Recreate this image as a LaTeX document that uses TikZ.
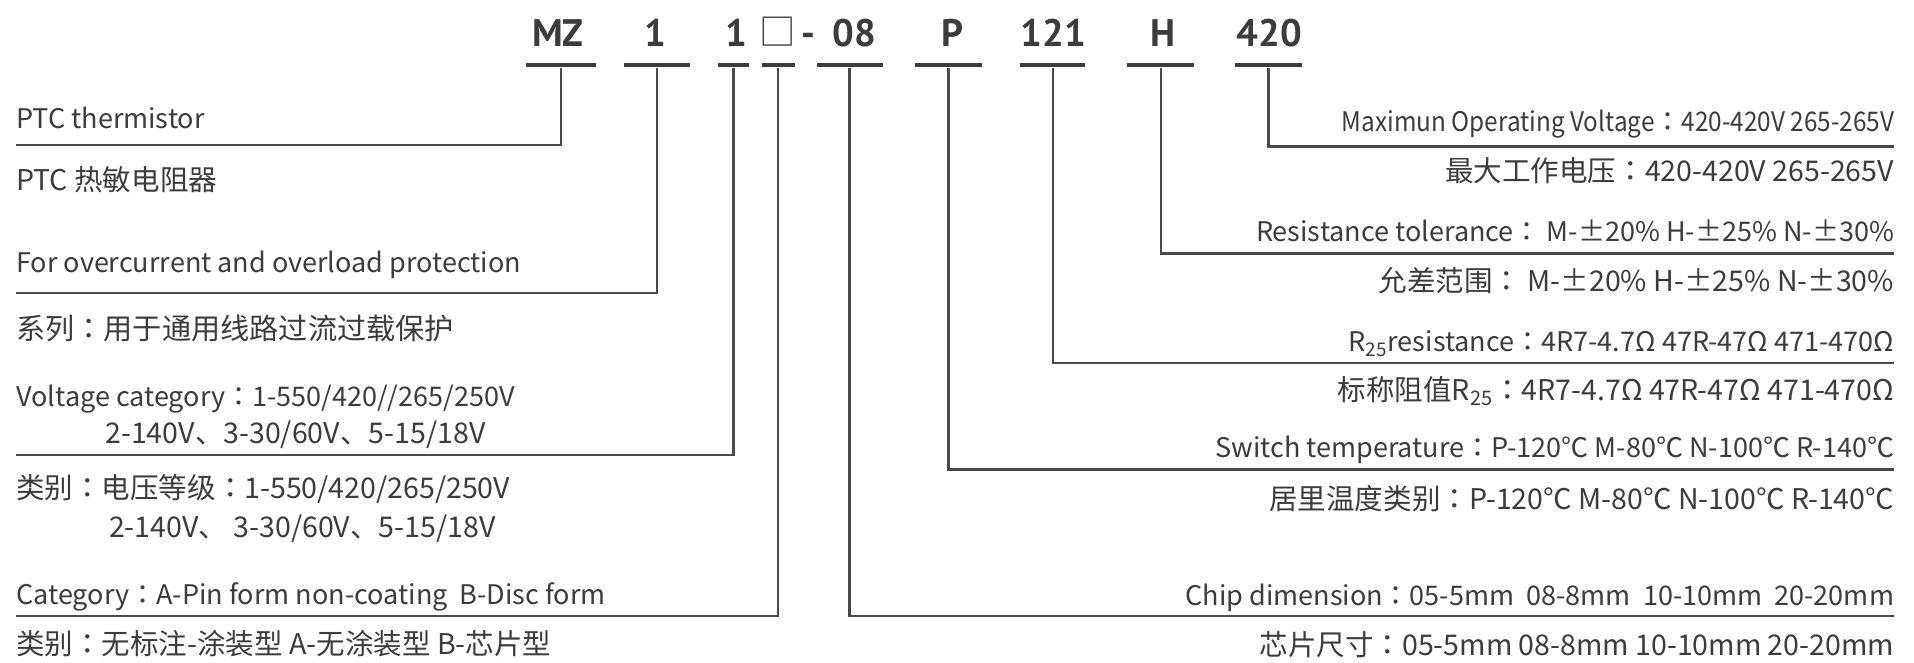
\documentclass[tikz,border=0pt]{standalone}
\usepackage{fontspec}
\newfontfamily\cjk{Noto Sans CJK SC}
\newfontfamily\cjknarrow[FakeStretch=0.9]{Noto Sans CJK SC}
\newfontfamily\colonfont{Noto Sans CJK TC}
\newfontfamily\codefont{PT Sans}
\newcommand\cln{{\colonfont ：}}
\definecolor{txt}{HTML}{3C3C3C}
\definecolor{linec}{HTML}{4A4A4A}
\tikzset{
  code/.style={font=\codefont\bfseries\fontsize{17.9}{20}\selectfont, text=txt, inner sep=0pt, anchor=base},
  bar/.style={rectangle, fill=txt, inner sep=0pt, minimum height=0.76mm, minimum width=#1*0.2mm},
  lead/.style={draw=linec, line width=0.4mm},
  lt/.style={font=\cjk\fontsize{13.3}{16}\selectfont, text=txt, inner sep=0pt, anchor=base west},
  rt/.style={lt, anchor=base east},
  en/.style={font=\cjk\fontsize{12.6}{15}\selectfont}
}

\begin{document}
\begin{tikzpicture}[x=0.2mm, y=-0.2mm]
    \useasboundingbox (0,0) rectangle (1568,543);

    % Type code
    \node[code] (c1) at (457,38) {MZ};
    \node[code] (c2) at (537,38) {1};
    \node[code] (c3) at (603,38) {1};
    \node[code, font=\cjk\fontsize{17}{20}\selectfont] (c4) at (637,37) {□};
    \node[code] (c5) at (662,38) {-};
    \node[code] (c6) at (700,38) {08};
    \node[code] (c7) at (780,38) {P};
    \node[code] (c8) at (863,38) {121};
    \node[code] (c9) at (953,38) {H};
    \node[code] (c10) at (1040,38) {420};

    % Bars under the code
    \node[bar=57] (b1) at (459.5,53.3) {};
    \node[bar=54] (b2) at (538,53.3) {};
    \node[bar=25] (b3) at (601,53.3) {};
    \node[bar=27] (b4) at (637.5,53.3) {};
    \node[bar=54] (b5) at (696,53.3) {};
    \node[bar=55] (b6) at (777,53.3) {};
    \node[bar=53] (b7) at (862.5,53.3) {};
    \node[bar=55] (b8) at (951,53.3) {};
    \node[bar=55] (b9) at (1039,53.3) {};

    % Left side descriptions
    \node[lt, en] (t1) at (13,105) {PTC thermistor};
    \node[lt] (t2) at (13,156) {PTC 热敏电阻器};
    \node[lt, en] (t3) at (13,223) {For overcurrent and overload protection};
    \node[lt, font=\cjk\fontsize{13.6}{16}\selectfont] (t4) at (13,278) {系列\cln 用于通用线路过流过载保护};
    \node[lt, en] (t5) at (13,333) {Voltage category\cln 1-550/420//265/250V};
    \node[lt] (t6) at (86,363) {2-140V、3-30/60V、5-15/18V};
    \node[lt] (t7) at (13,408) {类别\cln 电压等级\cln 1-550/420/265/250V};
    \node[lt] (t8) at (89,440) {2-140V、 3-30/60V、5-15/18V};
    \node[lt, en] (t9) at (13,495) {Category\cln A-Pin form non-coating\ \ B-Disc form};
    \node[lt] (t10) at (13,536) {类别\cln 无标注-涂装型 A-无涂装型 B-芯片型};

    % Right side descriptions
    \node[rt, font=\cjknarrow\fontsize{12.6}{15}\selectfont] (u1) at (1552,108) {Maximun Operating Voltage\cln 420-420V 265-265V};
    \node[rt] (u2) at (1552,149) {最大工作电压\cln 420-420V 265-265V};
    \node[rt, en] (u3) at (1552,198) {Resistance tolerance\cln\ M-±20\% H-±25\% N-±30\%};
    \node[rt] (u4) at (1552,239) {允差范围\cln\ M-±20\% H-±25\% N-±30\%};
    \node[rt, en] (u5) at (1552,288) {R\textsubscript{25}resistance\cln 4R7-4.7Ω 47R-47Ω 471-470Ω};
    \node[rt] (u6) at (1552,328) {标称阻值R\textsubscript{25}\cln 4R7-4.7Ω 47R-47Ω 471-470Ω};
    \node[rt, en] (u7) at (1552,375) {Switch temperature\cln P-120℃ M-80℃ N-100℃ R-140℃};
    \node[rt] (u8) at (1552,417) {居里温度类别\cln P-120℃ M-80℃ N-100℃ R-140℃};
    \node[rt, en] (u9) at (1552,496) {Chip dimension\cln 05-5mm\ \ 08-8mm\ \ 10-10mm\ \ 20-20mm};
    \node[rt] (u10) at (1552,537) {芯片尺寸\cln 05-5mm 08-8mm 10-10mm 20-20mm};

    % Leader lines
    \coordinate (l1) at (13,119);
    \coordinate (l2) at (13,240);
    \coordinate (l3) at (13,372.7);
    \coordinate (l4) at (13,504.6);
    \coordinate (r1) at (1552,504.6);
    \coordinate (r2) at (1552,384.5);
    \coordinate (r3) at (1552,297.6);
    \coordinate (r4) at (1552,207.5);
    \coordinate (r5) at (1552,120);
    \draw[lead] (b1.south) |- (l1);
    \draw[lead] (b2.south) |- (l2);
    \draw[lead] (b3.south) |- (l3);
    \draw[lead] (b4.south) |- (l4);
    \draw[lead] (b5.south) |- (r1);
    \draw[lead] (b6.south) |- (r2);
    \draw[lead] (b7.south) |- (r3);
    \draw[lead] (b8.south) |- (r4);
    \draw[lead] (b9.south) |- (r5);
\end{tikzpicture}
\end{document}
